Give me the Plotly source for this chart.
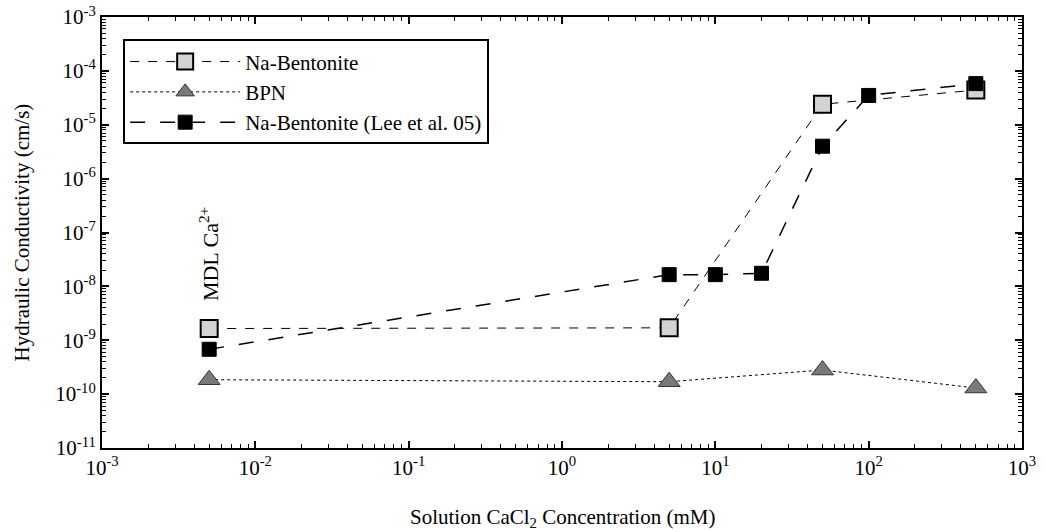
import math
import plotly.graph_objects as go

# Data
na_x = [0.005, 5, 50, 500]
na_y = [1.65e-9, 1.7e-9, 2.4e-5, 4.4e-5]

bpn_x = [0.005, 5, 50, 500]
bpn_y = [1.85e-10, 1.7e-10, 2.8e-10, 1.3e-10]

lee_x = [0.005, 5, 10, 20, 50, 100, 500]
lee_y = [6.8e-10, 1.65e-8, 1.65e-8, 1.75e-8, 4.0e-6, 3.5e-5, 5.8e-5]

mdl_x = 0.005
mdl_y = 4e-8

x_tickvals = [1e-3, 1e-2, 1e-1, 1, 10, 100, 1000]
x_ticktext = ["10<sup>-3</sup>", "10<sup>-2</sup>", "10<sup>-1</sup>", "10<sup>0</sup>",
              "10<sup>1</sup>", "10<sup>2</sup>", "10<sup>3</sup>"]
y_tickvals = [1e-11, 1e-10, 1e-9, 1e-8, 1e-7, 1e-6, 1e-5, 1e-4, 1e-3]
y_ticktext = ["10<sup>-11</sup>", "10<sup>-10</sup>", "10<sup>-9</sup>", "10<sup>-8</sup>",
              "10<sup>-7</sup>", "10<sup>-6</sup>", "10<sup>-5</sup>", "10<sup>-4</sup>",
              "10<sup>-3</sup>"]

x_title = "Solution CaCl<sub>2</sub> Concentration (mM)"
y_title = "Hydraulic Conductivity (cm/s)"

FONT = "Liberation Serif, Times New Roman, serif"

fig = go.Figure()
fig.add_trace(go.Scatter(
    x=na_x, y=na_y, name="Na-Bentonite", mode="lines+markers",
    line=dict(color="black", width=1, dash="dash"),
    marker=dict(symbol="square", size=17, color="#d3d3d3", line=dict(color="black", width=2)),
))
fig.add_trace(go.Scatter(
    x=bpn_x, y=bpn_y, name="BPN", mode="lines+markers",
    line=dict(color="black", width=1, dash="dot"),
    marker=dict(symbol="triangle-up", size=19, color="#7a7a7a", line=dict(color="#333333", width=1)),
))
fig.add_trace(go.Scatter(
    x=lee_x, y=lee_y, name="Na-Bentonite (Lee et al. 05)", mode="lines+markers",
    line=dict(color="black", width=1.5, dash="longdash"),
    marker=dict(symbol="square", size=14, color="black", line=dict(color="black", width=1)),
))

fig.add_annotation(
    x=math.log10(mdl_x), y=math.log10(mdl_y), xref="x", yref="y",
    text="MDL Ca<sup>2+</sup>", textangle=-90, showarrow=False,
    font=dict(family=FONT, size=22, color="black"),
)
fig.add_annotation(
    x=0.5, y=-0.163, xref="paper", yref="paper", xanchor="center", yanchor="middle",
    text=x_title, showarrow=False, font=dict(family=FONT, size=21, color="black"),
)
fig.add_annotation(
    x=-0.087, y=0.5, xref="paper", yref="paper", xanchor="center", yanchor="middle",
    text=y_title, textangle=-90, showarrow=False, font=dict(family=FONT, size=21, color="black"),
)

axis_common = dict(
    type="log", showgrid=False, zeroline=False, automargin=False,
    showline=True, linecolor="black", linewidth=2, mirror="allticks",
    ticks="inside", ticklen=7, tickwidth=1.5, tickcolor="black",
    tickfont=dict(family=FONT, size=21, color="black"),
    minor=dict(ticks="inside", ticklen=4, tickwidth=1, tickcolor="black", dtick="D1", showgrid=False),
)

fig.update_xaxes(**axis_common, range=[-3, 3], tickvals=x_tickvals, ticktext=x_ticktext)
fig.update_yaxes(**axis_common, range=[-11, -3], tickvals=y_tickvals, ticktext=y_ticktext)

fig.update_layout(
    width=1045, height=532,
    margin=dict(l=102, r=23, t=17, b=84),
    plot_bgcolor="white", paper_bgcolor="white",
    font=dict(family=FONT, size=21, color="black"),
    legend=dict(
        x=0.023, y=0.948, xanchor="left", yanchor="top",
        bordercolor="black", borderwidth=2, bgcolor="white",
        font=dict(family=FONT, size=21, color="black"),
        itemwidth=110, tracegroupgap=0,
    ),
    showlegend=True,
)

fig.write_html("out.html")
